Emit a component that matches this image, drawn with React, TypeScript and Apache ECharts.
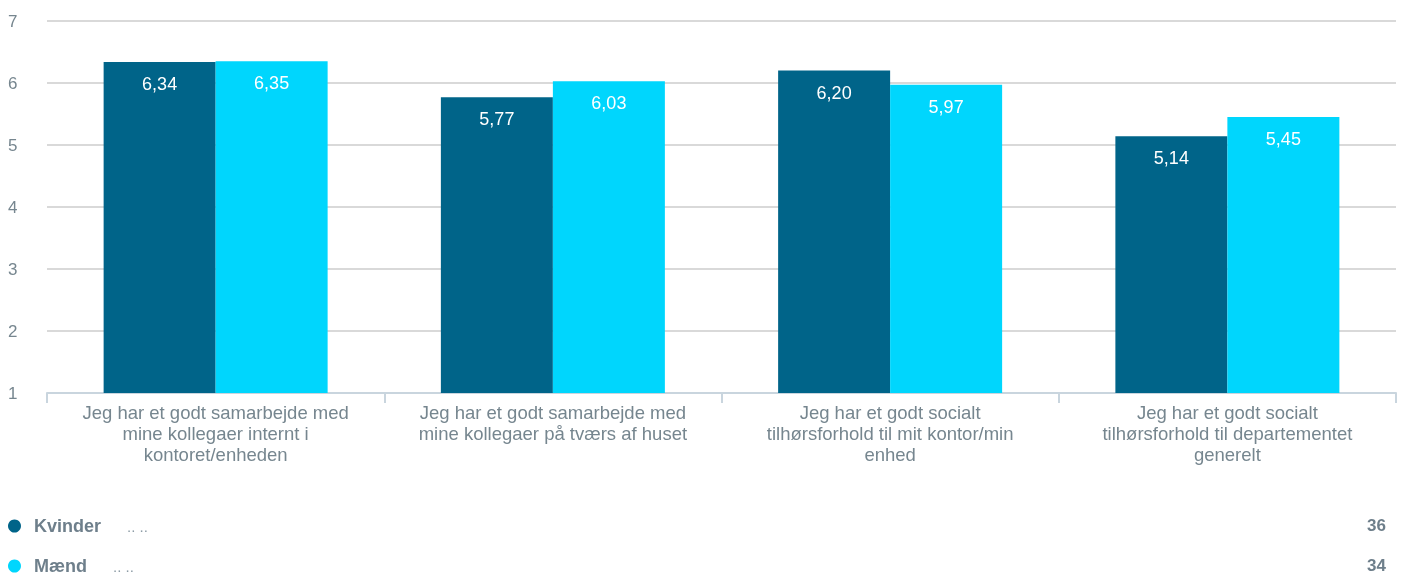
import React, { useEffect, useRef } from "react";
import * as echarts from "echarts";

const categories = [
  "Jeg har et godt samarbejde med\nmine kollegaer internt i\nkontoret/enheden",
  "Jeg har et godt samarbejde med\nmine kollegaer på tværs af huset",
  "Jeg har et godt socialt\ntilhørsforhold til mit kontor/min\nenhed",
  "Jeg har et godt socialt\ntilhørsforhold til departementet\ngenerelt",
];
const kvinder = [6.34, 5.77, 6.2, 5.14];
const maend = [6.35, 6.03, 5.97, 5.45];
const seriesNames = ["Kvinder", "Mænd"];
const counts = [36, 34];
const colors = ["#006489", "#00d6fd"];

const FONT = "Liberation Sans, Arial, sans-serif";

export default function App() {
  const ref = useRef<HTMLDivElement>(null);
  useEffect(() => {
    if (!ref.current) return;
    const chart = echarts.init(ref.current, undefined, { renderer: "svg" });
    const fmt = (p: any) => Number(p.value).toFixed(2).replace(".", ",");
    const label = {
      show: true,
      position: "insideTop",
      distance: 13,
      color: "#ffffff",
      fontSize: 18,
      fontFamily: FONT,
      formatter: fmt,
    };
    const legendBase = (name: string, top: number) => ({
      orient: "vertical",
      left: 8,
      top,
      padding: 0,
      icon: "circle",
      itemWidth: 13,
      itemHeight: 13,
      selectedMode: false,
      data: [name],
      formatter: (n: string) => `{b|${n}}{d|.. ..}`,
      textStyle: {
        rich: {
          b: { fontSize: 18, fontWeight: "bold", color: "#6e7f8b", padding: [0, 26, 0, 8], lineHeight: 18 },
          d: { fontSize: 15, color: "#8d9ca6", lineHeight: 18 },
        },
      },
    });
    chart.setOption({
      animation: false,
      textStyle: { fontFamily: FONT },
      grid: { left: 47, right: 8, top: 21, bottom: 183, containLabel: false },
      xAxis: {
        type: "category",
        data: categories,
        axisLine: { show: true, lineStyle: { color: "#c9d5de", width: 2 } },
        axisTick: { show: true, length: 10, lineStyle: { color: "#c9d5de", width: 2 } },
        axisLabel: {
          color: "#76868f",
          fontSize: 18.5,
          lineHeight: 21,
          margin: 9,
          interval: 0,
        },
      },
      yAxis: {
        type: "value",
        min: 1,
        max: 7,
        interval: 1,
        axisLine: { show: false },
        axisTick: { show: false },
        splitLine: { lineStyle: { color: "#d9d9d9", width: 2 } },
        axisLabel: {
          color: "#76868f",
          fontSize: 17,
          align: "left",
          margin: 39,
        },
      },
      legend: [legendBase(seriesNames[0], 517), legendBase(seriesNames[1], 557)],
      graphic: counts.map((c, i) => ({
        type: "text",
        right: 18,
        top: 517 + i * 40,
        style: {
          text: String(c),
          fontSize: 17,
          fontWeight: "bold",
          fill: "#6e7f8b",
          fontFamily: FONT,
        },
      })),
      series: [
        {
          name: seriesNames[0],
          type: "bar",
          data: kvinder,
          barWidth: 112,
          barGap: "0%",
          itemStyle: { color: colors[0] },
          label,
        },
        {
          name: seriesNames[1],
          type: "bar",
          data: maend,
          barWidth: 112,
          barGap: "0%",
          itemStyle: { color: colors[1] },
          label,
        },
      ],
    });
    return () => chart.dispose();
  }, []);
  return (
    <div
      ref={ref}
      style={{ position: "fixed", left: 0, top: 0, width: 1404, height: 576 }}
    />
  );
}
